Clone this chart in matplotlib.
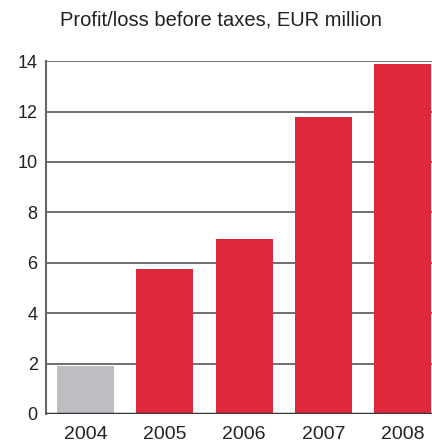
import matplotlib.pyplot as plt

plt.rcParams["font.family"] = ["Liberation Sans", "DejaVu Sans"]

years = ["2004", "2005", "2006", "2007", "2008"]
profit = [1.9, 5.75, 6.95, 11.8, 13.9]
bar_colors = ["#bdbec2", "#e0283c", "#e0283c", "#e0283c", "#e0283c"]
y_ticks = [0, 2, 4, 6, 8, 10, 12, 14]

fig = plt.figure(figsize=(4.32, 4.43), dpi=100)
ax = fig.add_axes([0.1065, 0.0655, 0.8935, 0.7965])

x = range(len(years))
ax.bar(x, profit, width=0.72, color=bar_colors, zorder=3)

ax.set_xlim(-0.5, 4.37)
ax.set_ylim(0, 14)
ax.set_yticks(y_ticks)
ax.set_xticks(list(x))
ax.set_xticklabels(years)
ax.tick_params(axis="y", length=0, labelsize=13, colors="#222222", pad=6)
ax.tick_params(axis="x", length=0, labelsize=14, colors="#222222", pad=9)

for t in y_ticks[1:]:
    ax.axhline(t, color="#555555", linewidth=1.2, zorder=1)
ax.axhline(0, color="#333333", linewidth=2.5, zorder=4)

for side in ["top", "right", "bottom"]:
    ax.spines[side].set_visible(False)
ax.spines["left"].set_color("#666666")
ax.spines["left"].set_linewidth(1.5)

fig.text(0.138, 0.955, "Profit/loss before taxes, EUR million", fontsize=14.5,
         color="#222222", va="center", ha="left")

fig.savefig("out.png", dpi=100)
